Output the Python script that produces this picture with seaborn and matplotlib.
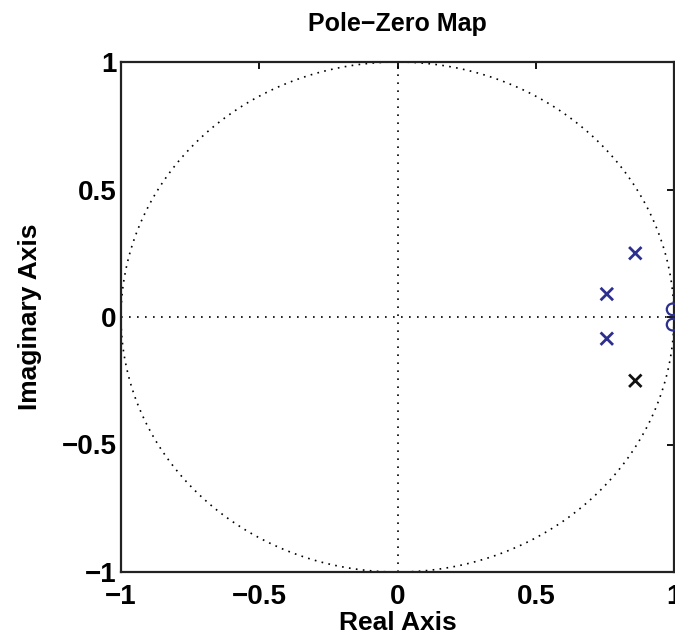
import numpy as np
import pandas as pd
import matplotlib
matplotlib.use("Agg")
import matplotlib.pyplot as plt
import seaborn as sns

# Data
pole_re = [0.86, 0.757, 0.757, 0.86]
pole_im = [0.25, 0.09, -0.085, -0.25]
pole_sys = ["blue", "blue", "blue", "black"]
zero_re = [0.995, 0.995]
zero_im = [0.03, -0.03]
ticks = [-1, -0.5, 0, 0.5, 1]
tick_labels = ["\u22121", "\u22120.5", "0", "0.5", "1"]

sns.set_theme(style="white")
plt.rcParams['font.family'] = ['Liberation Sans', 'DejaVu Sans']
plt.rcParams['font.weight'] = 'bold'
plt.rcParams['text.color'] = 'black'
plt.rcParams['axes.labelcolor'] = 'black'

fig = plt.figure(figsize=(6.75, 6.4), dpi=100)
ax = fig.add_axes([121/675, 68/640, 553/675, 510/640])

# unit circle and axes guides
th = np.linspace(0, 2*np.pi, 400)
ax.plot(np.cos(th), np.sin(th), color="black", lw=1.2, linestyle=(0, (1, 3.2)), zorder=1)
ax.axhline(0, color="black", lw=1.2, linestyle=(0, (1, 3.8)), zorder=1)
ax.axvline(0, color="black", lw=1.2, linestyle=(0, (1, 3.8)), zorder=1)

poles = pd.DataFrame({"re": pole_re, "im": pole_im, "sys": pole_sys})
zeros = pd.DataFrame({"re": zero_re, "im": zero_im})
sns.scatterplot(data=poles, x="re", y="im", hue="sys",
                palette={"blue": "#2d2f8f", "black": "#111111"},
                marker="x", s=80, linewidth=2, legend=False, ax=ax, zorder=3)
sns.scatterplot(data=zeros, x="re", y="im", marker="o", s=70,
                facecolor="none", edgecolor="#2d2f8f", linewidth=1.6,
                legend=False, ax=ax, zorder=3, clip_on=False)

ax.set_xlim(-1, 1)
ax.set_ylim(-1, 1)
ax.set_xticks(ticks)
ax.set_xticklabels(tick_labels)
ax.set_yticks(ticks)
ax.set_yticklabels(tick_labels)
ax.tick_params(direction="in", length=5, width=1.3, top=True, right=True,
               labelsize=20, colors="black")
ax.tick_params(axis="x", pad=9)
ax.tick_params(axis="y", pad=3)
for lab in ax.get_xticklabels() + ax.get_yticklabels():
    lab.set_fontweight("bold")
for sp in ax.spines.values():
    sp.set_color("#222222")
    sp.set_linewidth(1.6)

ax.set_xlabel("Real Axis", fontsize=19, fontweight="bold", labelpad=0)
ax.set_ylabel("Imaginary Axis", fontsize=19, fontweight="bold", labelpad=14)
ax.set_title("Pole\u2212Zero Map", fontsize=18, fontweight="bold", pad=22)

fig.savefig("out.png", dpi=100)
